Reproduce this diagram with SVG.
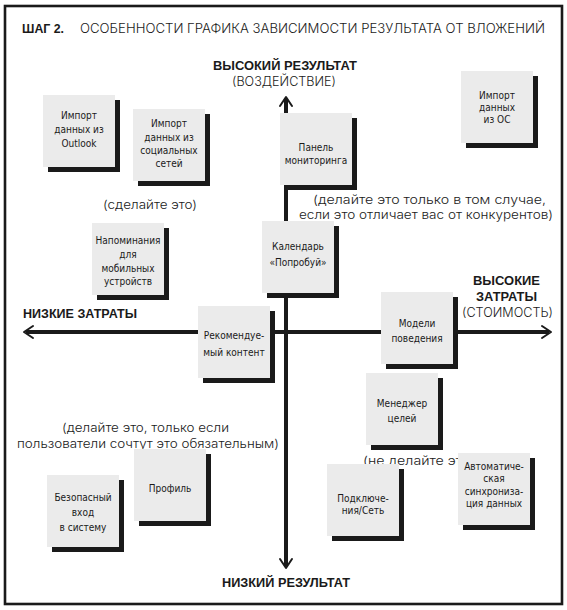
<svg xmlns="http://www.w3.org/2000/svg" width="567" height="610" viewBox="0 0 567 610">
<style>
.frame{fill:none;stroke:#1a1a1a;stroke-width:2.6}
.axis{stroke:#1a1a1a;stroke-width:4;fill:none}
.head{stroke:#1a1a1a;stroke-width:2;fill:none;stroke-linecap:round;stroke-linejoin:round}
.sh{fill:#1a1a1a}
.nb{fill:#ebebeb}
.nt{font-family:"DejaVu Sans Condensed","DejaVu Sans","Liberation Sans",sans-serif;font-size:10px;fill:#1a1a1a;text-anchor:middle}
.bold{font-family:"Liberation Sans",Arial,sans-serif;font-weight:bold;font-size:12.5px;fill:#1a1a1a}
.light{font-family:Inter,"Liberation Sans",Arial,sans-serif;font-weight:300;font-size:12.5px;fill:#1a1a1a}
</style>
<rect width="567" height="610" fill="#ffffff"/>
<rect class="frame" x="5" y="6" width="557" height="598"/>
<g id="title">
<text class="bold" x="22" y="33" textLength="42" lengthAdjust="spacingAndGlyphs">ШАГ 2.</text>
<text class="light" x="80" y="33" textLength="465" lengthAdjust="spacingAndGlyphs">ОСОБЕННОСТИ ГРАФИКА ЗАВИСИМОСТИ РЕЗУЛЬТАТА ОТ ВЛОЖЕНИЙ</text>
</g>
<g id="connectors">
<line class="axis" x1="286" y1="99" x2="286" y2="566"/>
<polyline class="head" points="280,106 286,97 292,106"/>
<polyline class="head" points="280,559 286,568 292,559"/>
<line class="axis" x1="26" y1="332" x2="549" y2="332"/>
<polyline class="head" points="33,326 24,332 33,338"/>
<polyline class="head" points="542,326 551,332 542,338"/>
</g>
<g id="labels">
<text class="bold" x="213" y="70" textLength="144" lengthAdjust="spacingAndGlyphs">ВЫСОКИЙ РЕЗУЛЬТАТ</text>
<text class="light" x="232" y="86" textLength="104" lengthAdjust="spacingAndGlyphs">(ВОЗДЕЙСТВИЕ)</text>
<text class="bold" x="222" y="587" textLength="128" lengthAdjust="spacingAndGlyphs">НИЗКИЙ РЕЗУЛЬТАТ</text>
<text class="bold" x="23" y="318" textLength="114" lengthAdjust="spacingAndGlyphs">НИЗКИЕ ЗАТРАТЫ</text>
<text class="bold" x="473" y="285" textLength="67" lengthAdjust="spacingAndGlyphs">ВЫСОКИЕ</text>
<text class="bold" x="476" y="301" textLength="61" lengthAdjust="spacingAndGlyphs">ЗАТРАТЫ</text>
<text class="light" x="462" y="317" textLength="91" lengthAdjust="spacingAndGlyphs">(СТОИМОСТЬ)</text>
<text class="light" x="313" y="204" textLength="233" lengthAdjust="spacingAndGlyphs">(делайте это только в том случае,</text>
<text class="light" x="299" y="219" textLength="254" lengthAdjust="spacingAndGlyphs">если это отличает вас от конкурентов)</text>
<text class="light" x="103" y="209" textLength="94" lengthAdjust="spacingAndGlyphs">(сделайте это)</text>
<text class="light" x="62" y="432" textLength="167" lengthAdjust="spacingAndGlyphs">(делайте это, только если</text>
<text class="light" x="17" y="448" textLength="262" lengthAdjust="spacingAndGlyphs">пользователи сочтут это обязательным)</text>
<text class="light" x="363" y="465" textLength="112" lengthAdjust="spacingAndGlyphs">(не делайте это)</text>
</g>
<g id="n-outlook">
<rect class="sh" x="48" y="100" width="72" height="72"/><rect class="nb" x="43" y="95" width="72" height="72"/>
<text class="nt" x="79" y="119">Импорт</text><text class="nt" x="79" y="133">данных из</text><text class="nt" x="79" y="147">Outlook</text>
</g>
<g id="n-social">
<rect class="sh" x="138" y="114" width="72" height="72"/><rect class="nb" x="133" y="109" width="72" height="72"/>
<text class="nt" x="169" y="127">Импорт</text><text class="nt" x="169" y="141">данных из</text><text class="nt" x="169" y="154">социальных</text><text class="nt" x="169" y="167">сетей</text>
</g>
<g id="n-panel">
<rect class="sh" x="285" y="118" width="72" height="72"/><rect class="nb" x="280" y="113" width="72" height="72"/>
<text class="nt" x="316" y="151">Панель</text><text class="nt" x="316" y="164">мониторинга</text>
</g>
<g id="n-os">
<rect class="sh" x="466" y="76" width="72" height="72"/><rect class="nb" x="461" y="71" width="72" height="72"/>
<text class="nt" x="497" y="99">Импорт</text><text class="nt" x="497" y="111">данных</text><text class="nt" x="497" y="123">из ОС</text>
</g>
<g id="n-remind">
<rect class="sh" x="97" y="228" width="72" height="72"/><rect class="nb" x="92" y="223" width="72" height="72"/>
<text class="nt" x="128" y="244">Напоминания</text><text class="nt" x="128" y="258">для</text><text class="nt" x="128" y="272">мобильных</text><text class="nt" x="128" y="285">устройств</text>
</g>
<g id="n-calendar">
<rect class="sh" x="267" y="226" width="72" height="72"/><rect class="nb" x="262" y="221" width="72" height="72"/>
<text class="nt" x="298" y="250">Календарь</text><text class="nt" x="298" y="266">«Попробуй»</text>
</g>
<g id="n-recommend">
<rect class="sh" x="203" y="311" width="72" height="72"/><rect class="nb" x="198" y="306" width="72" height="72"/>
<text class="nt" x="234" y="339">Рекомендуе-</text><text class="nt" x="234" y="356">мый контент</text>
</g>
<g id="n-models">
<rect class="sh" x="386" y="297" width="72" height="72"/><rect class="nb" x="381" y="292" width="72" height="72"/>
<text class="nt" x="417" y="327">Модели</text><text class="nt" x="417" y="342">поведения</text>
</g>
<g id="n-goals">
<rect class="sh" x="371" y="378" width="72" height="72"/><rect class="nb" x="366" y="373" width="72" height="72"/>
<text class="nt" x="402" y="407">Менеджер</text><text class="nt" x="402" y="422">целей</text>
</g>
<g id="n-connect">
<rect class="sh" x="332" y="469" width="72" height="72"/><rect class="nb" x="327" y="464" width="72" height="72"/>
<text class="nt" x="363" y="502">Подключе-</text><text class="nt" x="363" y="514">ния/Сеть</text>
</g>
<g id="n-autosync">
<rect class="sh" x="463" y="458" width="72" height="72"/><rect class="nb" x="458" y="453" width="72" height="72"/>
<text class="nt" x="494" y="470">Автоматиче-</text><text class="nt" x="494" y="482">ская</text><text class="nt" x="494" y="495">синхрониза-</text><text class="nt" x="494" y="507">ция данных</text>
</g>
<g id="n-secure">
<rect class="sh" x="52" y="480" width="72" height="72"/><rect class="nb" x="47" y="475" width="72" height="72"/>
<text class="nt" x="83" y="501">Безопасный</text><text class="nt" x="83" y="516">вход</text><text class="nt" x="83" y="531">в систему</text>
</g>
<g id="n-profile">
<rect class="sh" x="139" y="454" width="72" height="72"/><rect class="nb" x="134" y="449" width="72" height="72"/>
<text class="nt" x="170" y="492">Профиль</text>
</g>
</svg>
